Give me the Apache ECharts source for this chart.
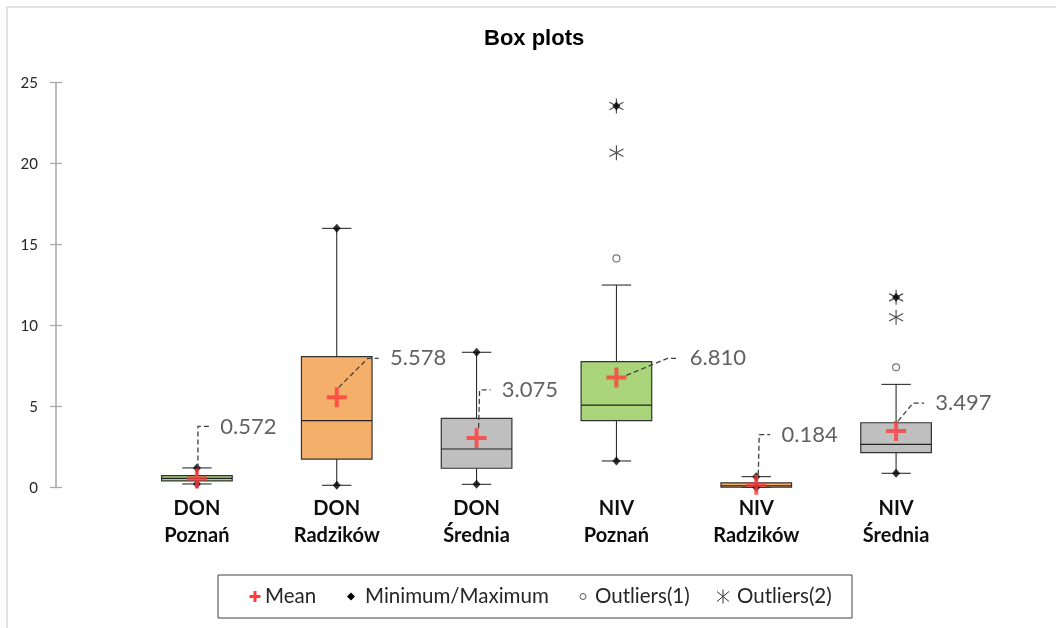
<!DOCTYPE html>
<html>
<head>
<meta charset="utf-8">
<style>
  html, body { margin: 0; padding: 0; background: #fff; }
  #chart { width: 1056px; height: 628px; }
</style>
<script src="https://cdn.jsdelivr.net/npm/echarts/dist/echarts.min.js"></script>
</head>
<body>
<div id="chart"></div>
<script>
// ---- data ----
var categories = ['DON\nPoznań', 'DON\nRadzików', 'DON\nŚrednia', 'NIV\nPoznań', 'NIV\nRadzików', 'NIV\nŚrednia'];
var whiskerLow  = [0.23, 0.15, 0.21, 1.65, 0.02, 0.89];
var q1          = [0.42, 1.77, 1.20, 4.14, 0.03, 2.16];
var median      = [0.58, 4.14, 2.39, 5.10, 0.12, 2.68];
var q3          = [0.74, 8.09, 4.28, 7.78, 0.30, 4.01];
var whiskerHigh = [1.22, 16.01, 8.36, 12.51, 0.68, 6.38];
var minima      = [0.23, 0.15, 0.21, 1.65, 0.02, 0.89];
var maxima      = [1.22, 16.01, 8.36, 23.56, 0.68, 11.75];
var means       = [0.572, 5.578, 3.075, 6.810, 0.184, 3.497];
var outliers1   = [[3, 14.15], [5, 7.43]];
var outliers2   = [[3, 20.68], [3, 23.56], [5, 10.52], [5, 11.75]];
var yTicks      = { min: 0, max: 25, interval: 5 };

// ---- styles ----
var boxColors = ['#A9D47A', '#F4B06B', '#BFBFBF', '#A9D47A', '#F4B06B', '#BFBFBF'];
var meanLabelShift = [[-3, -52], [27, -39], [-1, -48], [47, -19], [-1, -50], [13, -28]];
var FONT = 'Lato';

var boxData = categories.map(function (c, i) {
  return [i, whiskerLow[i], q1[i], median[i], q3[i], whiskerHigh[i]];
});
var minMaxData = [];
categories.forEach(function (c, i) {
  minMaxData.push([i, minima[i]]);
  minMaxData.push([i, maxima[i]]);
});
var meanData = means.map(function (m, i) { return [i, m]; });

var chart = echarts.init(document.getElementById('chart'), null, { renderer: 'canvas' });

var legendY = 596.5;
var option = {
  animation: false,
  backgroundColor: '#fff',
  title: {
    text: 'Box plots',
    left: 484, top: 28, padding: 0,
    textStyle: { fontFamily: 'Liberation Sans', fontWeight: 'bold', fontSize: 22, color: '#000' }
  },
  grid: { left: 127, right: 90, top: 82.7, bottom: 140.3, containLabel: false },
  xAxis: {
    type: 'category',
    data: categories,
    axisLine: { show: false },
    axisTick: { show: false },
    splitLine: { show: false },
    axisLabel: {
      interval: 0, margin: 7,
      fontFamily: FONT, fontWeight: 'bold', fontSize: 20, lineHeight: 27, color: '#0d0d0d'
    }
  },
  yAxis: [{
    type: 'value', min: yTicks.min, max: yTicks.max, interval: yTicks.interval,
    position: 'left', offset: 71,
    axisLine: { show: true, lineStyle: { color: '#A6A6A6', width: 1.5 } },
    axisTick: { show: true, inside: false, length: 6, lineStyle: { color: '#A6A6A6', width: 1.2 } },
    splitLine: { show: false },
    axisLabel: { margin: 18, fontFamily: FONT, fontSize: 15, color: '#262626' }
  }, {
    type: 'value', min: yTicks.min, max: yTicks.max, interval: yTicks.interval,
    position: 'left', offset: 71,
    axisLine: { show: false },
    axisTick: { show: true, inside: true, length: 6, lineStyle: { color: '#A6A6A6', width: 1.2 } },
    splitLine: { show: false },
    axisLabel: { show: false }
  }],
  series: [{
    type: 'custom',
    name: 'Boxes',
    data: boxData,
    encode: { x: 0, y: [1, 2, 3, 4, 5] },
    renderItem: function (params, api) {
      var idx = api.value(0);
      var band = api.size([1, 0])[0];
      var bw = band * 0.505, cw = band * 0.21;
      var pLow = api.coord([idx, api.value(1)]);
      var pQ1 = api.coord([idx, api.value(2)]);
      var pMed = api.coord([idx, api.value(3)]);
      var pQ3 = api.coord([idx, api.value(4)]);
      var pHigh = api.coord([idx, api.value(5)]);
      var x = pQ1[0];
      var ln = { stroke: '#1a1a1a', lineWidth: 1 };
      return {
        type: 'group',
        children: [
          { type: 'line', shape: { x1: x, y1: pQ3[1], x2: x, y2: pHigh[1] }, style: ln },
          { type: 'line', shape: { x1: x, y1: pQ1[1], x2: x, y2: pLow[1] }, style: ln },
          { type: 'line', shape: { x1: x - cw / 2, y1: pHigh[1], x2: x + cw / 2, y2: pHigh[1] }, style: ln },
          { type: 'line', shape: { x1: x - cw / 2, y1: pLow[1], x2: x + cw / 2, y2: pLow[1] }, style: ln },
          { type: 'rect', shape: { x: x - bw / 2, y: pQ3[1], width: bw, height: pQ1[1] - pQ3[1] },
            style: { fill: boxColors[idx], stroke: '#333', lineWidth: 1.2 } },
          { type: 'line', shape: { x1: x - bw / 2, y1: pMed[1], x2: x + bw / 2, y2: pMed[1] },
            style: { stroke: '#222', lineWidth: 1.2 } }
        ]
      };
    },
    z: 2
  }, {
    type: 'scatter',
    name: 'Outliers(2)',
    data: outliers2,
    symbol: 'path://M5,0L5,10M0.7,2.5L9.3,7.5M0.7,7.5L9.3,2.5',
    symbolSize: [14, 15],
    itemStyle: { color: 'transparent', borderColor: '#222', borderWidth: 1.2 },
    z: 3
  }, {
    type: 'scatter',
    name: 'Outliers(1)',
    data: outliers1,
    symbol: 'circle',
    symbolSize: 7,
    itemStyle: { color: '#fff', borderColor: '#555', borderWidth: 1.2 },
    z: 3
  }, {
    type: 'scatter',
    name: 'Minimum/Maximum',
    data: minMaxData,
    symbol: 'diamond',
    symbolSize: [8, 9],
    itemStyle: { color: '#000' },
    z: 4
  }, {
    type: 'scatter',
    name: 'Mean',
    data: meanData,
    symbol: 'path://M8,0H12V8H20V12H12V20H8V12H0V8H8Z',
    symbolSize: 20,
    itemStyle: { color: '#FF3B3B' },
    label: {
      show: true,
      position: 'right',
      distance: 5,
      fontFamily: FONT, fontSize: 22, color: '#3a3a3a',
      formatter: function (p) { return '\u00a0\u00a0' + p.value[1].toFixed(3); }
    },
    labelLayout: function (params) {
      var s = meanLabelShift[params.dataIndex];
      return { dx: s[0], dy: s[1] };
    },
    labelLine: {
      show: true,
      length2: 11,
      lineStyle: { color: '#404040', width: 1.3, type: [5, 3] }
    },
    z: 5
  }],
  graphic: [
    { type: 'rect', z: -10, silent: true,
      shape: { x: 7, y: 7, width: 1200, height: 800 },
      style: { fill: 'none', stroke: '#D9D9D9', lineWidth: 1.5 } },
    { type: 'group', silent: true, children: [
      { type: 'rect', shape: { x: 218, y: 575, width: 634, height: 43 },
        style: { fill: '#fff', stroke: '#404040', lineWidth: 1 } },
      { type: 'rect', shape: { x: 249.5, y: legendY - 1.5, width: 11, height: 3 }, style: { fill: '#FF3B3B' } },
      { type: 'rect', shape: { x: 253.5, y: legendY - 5.5, width: 3, height: 11 }, style: { fill: '#FF3B3B' } },
      { type: 'text', x: 265, y: legendY, style: { text: 'Mean', font: '20.5px Lato', fill: '#262626', verticalAlign: 'middle' } },
      { type: 'polygon', shape: { points: [[351, legendY - 4], [355, legendY], [351, legendY + 4], [347, legendY]] }, style: { fill: '#000' } },
      { type: 'text', x: 365, y: legendY, style: { text: 'Minimum/Maximum', font: '20.5px Lato', fill: '#262626', verticalAlign: 'middle' } },
      { type: 'circle', shape: { cx: 583, cy: legendY, r: 3 }, style: { fill: '#fff', stroke: '#555', lineWidth: 1 } },
      { type: 'text', x: 595, y: legendY, style: { text: 'Outliers(1)', font: '20.5px Lato', fill: '#262626', verticalAlign: 'middle' } },
      { type: 'polyline', shape: { points: [[723, legendY - 7], [723, legendY + 7]] }, style: { stroke: '#333', lineWidth: 1 } },
      { type: 'polyline', shape: { points: [[717, legendY - 5], [729, legendY + 5]] }, style: { stroke: '#333', lineWidth: 1 } },
      { type: 'polyline', shape: { points: [[717, legendY + 5], [729, legendY - 5]] }, style: { stroke: '#333', lineWidth: 1 } },
      { type: 'text', x: 737, y: legendY, style: { text: 'Outliers(2)', font: '20.5px Lato', fill: '#262626', verticalAlign: 'middle' } }
    ] }
  ]
};
chart.setOption(option);
</script>
</body>
</html>
